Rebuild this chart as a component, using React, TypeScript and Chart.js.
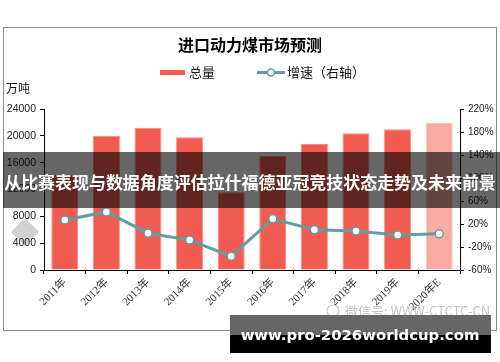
import React, { useEffect, useRef } from "react";
import { Chart, registerables } from "chart.js";

Chart.register(...registerables);

const categories = ["2011年", "2012年", "2013年", "2014年", "2015年", "2016年", "2017年", "2018年", "2019年", "2020年E"];
const totalValues = [14200, 20000, 21200, 19800, 11600, 17000, 18800, 20400, 21000, 21900];
const growthValues = [27, 41, 4, -8, -36, 29, 10, 8, 1, 3];
const leftTicks = { min: 0, max: 24000, step: 4000 };
const rightTicks = { min: -60, max: 220, step: 40 };

const chartTitle = "进口动力煤市场预测";
const legendTotal = "总量";
const legendGrowth = "增速（右轴）";
const unitLabel = "万吨";
const bannerText = "从比赛表现与数据角度评估拉什福德亚冠竞技状态走势及未来前景";
const siteText = "www.pro-2026worldcup.com";
const wechatText = "微信号: WWW-CTCTC-CN";

const RED = "#f25c50";
const RED_LIGHT = "#f9aaa1";
const TEAL = "#5e9fa6";
const CJK = '"Noto Sans CJK SC", "DejaVu Sans", sans-serif';

function fitSize(ctx: CanvasRenderingContext2D, text: string, weight: string, family: string, width: number) {
  ctx.font = `${weight} 100px ${family}`;
  const w = ctx.measureText(text).width;
  return (100 * width) / w;
}

const decorPlugin = {
  id: "decor",
  beforeDraw(chart: any) {
    const ctx = chart.ctx as CanvasRenderingContext2D;
    ctx.save();
    ctx.fillStyle = "#ffffff";
    ctx.fillRect(0, 0, chart.width, chart.height);
    // frame
    ctx.strokeStyle = "#8a8a8a";
    ctx.lineWidth = 1;
    ctx.strokeRect(3.5, 27.5, 493, 303);
    // title
    ctx.fillStyle = "#000";
    ctx.textBaseline = "middle";
    ctx.textAlign = "center";
    ctx.font = `bold 16px ${CJK}`;
    ctx.fillText(chartTitle, 250, 45);
    // legend
    ctx.textAlign = "left";
    ctx.font = `13px ${CJK}`;
    ctx.fillStyle = RED;
    ctx.fillRect(160, 70, 25, 5);
    ctx.fillStyle = "#111";
    ctx.fillText(legendTotal, 189, 72);
    ctx.strokeStyle = TEAL;
    ctx.lineWidth = 3;
    ctx.beginPath();
    ctx.moveTo(257, 72.5);
    ctx.lineTo(285, 72.5);
    ctx.stroke();
    ctx.beginPath();
    ctx.arc(271, 72.5, 3.5, 0, Math.PI * 2);
    ctx.fillStyle = "#fff";
    ctx.fill();
    ctx.lineWidth = 1.5;
    ctx.stroke();
    ctx.fillStyle = "#111";
    ctx.fillText(legendGrowth, 287, 72);
    // unit
    ctx.font = `12px ${CJK}`;
    ctx.fillText(unitLabel, 6, 88);
    // faint logo watermark
    ctx.fillStyle = "rgba(190,190,190,0.7)";
    ctx.beginPath();
    ctx.moveTo(25, 218);
    ctx.lineTo(39, 232);
    ctx.lineTo(25, 246);
    ctx.lineTo(11, 232);
    ctx.closePath();
    ctx.fill();
    ctx.restore();
  },
  afterDraw(chart: any) {
    const ctx = chart.ctx as CanvasRenderingContext2D;
    ctx.save();
    // wechat watermark
    ctx.textBaseline = "middle";
    ctx.textAlign = "left";
    ctx.fillStyle = "#c4c4c4";
    ctx.strokeStyle = "#c8c8c8";
    ctx.lineWidth = 1.2;
    ctx.beginPath();
    ctx.arc(333, 311, 6, 0, Math.PI * 2);
    ctx.stroke();
    ctx.font = `13px ${CJK}`;
    ctx.fillText(wechatText, 345, 311);
    // banner
    ctx.fillStyle = "rgba(0,0,0,0.6)";
    ctx.fillRect(3, 152, 497, 56);
    const bs = fitSize(ctx, bannerText, "bold", CJK, 492);
    ctx.font = `bold ${bs}px ${CJK}`;
    ctx.fillStyle = "#ffffff";
    ctx.textAlign = "center";
    ctx.fillText(bannerText, 250, 183);
    // bottom site box
    ctx.fillStyle = "#666666";
    ctx.fillRect(230, 315, 261, 20);
    ctx.fillStyle = "#000000";
    ctx.fillRect(230, 335, 261, 18);
    const ss = fitSize(ctx, siteText, "bold", '"DejaVu Sans", sans-serif', 239);
    ctx.font = `bold ${ss}px "DejaVu Sans", sans-serif`;
    ctx.fillStyle = "#ffffff";
    ctx.textAlign = "center";
    ctx.fillText(siteText, 360, 336);
    ctx.restore();
  },
};

export default function App() {
  const ref = useRef<HTMLCanvasElement | null>(null);
  useEffect(() => {
    if (!ref.current) return;
    const chart = new Chart(ref.current, {
      type: "bar",
      data: {
        labels: categories,
        datasets: [
          {
            type: "line",
            label: legendGrowth,
            data: growthValues,
            yAxisID: "y1",
            borderColor: TEAL,
            borderWidth: 3,
            pointRadius: 4,
            pointBackgroundColor: "#ffffff",
            pointBorderColor: TEAL,
            pointBorderWidth: 1.5,
            tension: 0,
            order: 0,
          } as any,
          {
            type: "bar",
            label: legendTotal,
            data: totalValues,
            yAxisID: "y",
            backgroundColor: totalValues.map((_, i) => (i === totalValues.length - 1 ? RED_LIGHT : RED)),
            borderColor: totalValues.map((_, i) => (i === totalValues.length - 1 ? "#fbc2bb" : "#f88a80")),
            borderWidth: { top: 1, left: 1, right: 1, bottom: 0 },
            categoryPercentage: 1,
            barPercentage: 0.65,
            order: 1,
          } as any,
        ],
      },
      options: {
        animation: false,
        responsive: false,
        maintainAspectRatio: false,
        layout: { padding: { left: 3, right: 3, top: 109, bottom: 32 } },
        plugins: {
          legend: { display: false },
          title: { display: false },
          tooltip: { enabled: false },
        },
        scales: {
          x: {
            offset: true,
            grid: { display: true, drawOnChartArea: false, drawTicks: true, tickLength: 4, color: "#000", offset: true },
            border: { display: true, color: "#000", width: 1 },
            ticks: {
              maxRotation: 45,
              minRotation: 45,
              autoSkip: false,
              padding: 2,
              color: "#333",
              font: { family: '"Liberation Serif", "Noto Sans CJK SC", serif', size: 11 },
            },
            afterFit(scale: any) {
              scale.height = 60;
            },
          },
          y: {
            position: "left",
            min: leftTicks.min,
            max: leftTicks.max,
            grid: { display: true, drawOnChartArea: false, drawTicks: true, tickLength: 4, color: "#000" },
            border: { display: true, color: "#000", width: 1 },
            ticks: {
              stepSize: leftTicks.step,
              padding: 4,
              color: "#222",
              font: { family: '"Liberation Sans", sans-serif', size: 10.5 },
              callback: (v: any) => String(v),
            },
            afterFit(scale: any) {
              scale.width = 41;
            },
          },
          y1: {
            position: "right",
            min: rightTicks.min,
            max: rightTicks.max,
            grid: { display: true, drawOnChartArea: false, drawTicks: true, tickLength: 4, color: "#000" },
            border: { display: true, color: "#000", width: 1 },
            ticks: {
              stepSize: rightTicks.step,
              padding: 4,
              color: "#222",
              font: { family: '"Liberation Sans", sans-serif', size: 10 },
              callback: (v: any) => `${v}%`,
            },
            afterFit(scale: any) {
              scale.width = 37;
            },
          },
        },
      },
      plugins: [decorPlugin],
    });
    return () => chart.destroy();
  }, []);
  return (
    <div style={{ position: "fixed", left: 0, top: 0, width: 500, height: 362 }}>
      <canvas ref={ref} width={500} height={362} style={{ width: 500, height: 362, display: "block" }} />
    </div>
  );
}
